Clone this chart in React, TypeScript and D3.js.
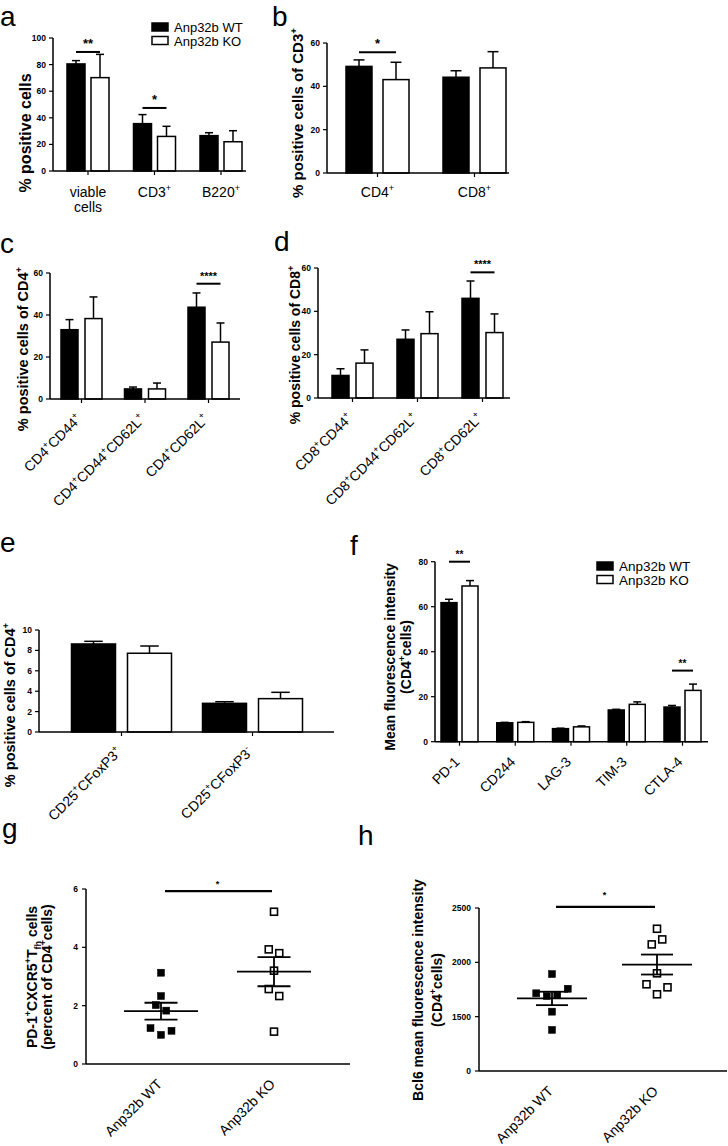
import React from 'react';
import * as d3 from 'd3';

const FONT = 'Arial, "Liberation Sans", Helvetica, sans-serif';

// ---------- Panel a ----------
const aCategories = ['viable\ncells', 'CD3^+', 'B220^+'];
const aWT = [80.5, 35.6, 26.6];
const aWTErr = [2.5, 6.8, 2.2];
const aKO = [70.2, 26, 22];
const aKOErr = [17.5, 7.6, 8.3];
const aYTicks = [0, 20, 40, 60, 80, 100];
const aSig = [{ group: 0, y: 89.5, label: '**' }, { group: 1, y: 47.4, label: '*' }];

// ---------- Panel b ----------
const bCategories = ['CD4^+', 'CD8^+'];
const bWT = [49.2, 44.2];
const bWTErr = [3, 3];
const bKO = [43.1, 48.5];
const bKOErr = [8, 7.5];
const bYTicks = [0, 20, 40, 60];
const bSig = [{ group: 0, y: 55.7, label: '*' }];

// ---------- Panel c ----------
const cCategories = ['CD4^+CD44^+', 'CD4^+CD44^+CD62L^+', 'CD4^+CD62L^+'];
const cWT = [33, 4.8, 43.7];
const cWTErr = [4.8, 0.9, 6.8];
const cKO = [38.3, 4.8, 27.1];
const cKOErr = [10.3, 2.8, 9.1];
const cYTicks = [0, 20, 40, 60];
const cSig = [{ group: 2, y: 54.9, label: '****' }];

// ---------- Panel d ----------
const dCategories = ['CD8^+CD44^+', 'CD8^+CD44^+CD62L^+', 'CD8^+CD62L^+'];
const dWT = [10.4, 27.1, 46];
const dWTErr = [3.1, 4.3, 8];
const dKO = [16.1, 29.7, 30.2];
const dKOErr = [6.1, 10.1, 8.6];
const dYTicks = [0, 20, 40, 60];
const dSig = [{ group: 2, y: 58, label: '****' }];

// ---------- Panel e ----------
const eCategories = ['CD25^+CFoxP3^+', 'CD25^+CFoxP3^-'];
const eWT = [8.63, 2.81];
const eWTErr = [0.26, 0.16];
const eKO = [7.72, 3.27];
const eKOErr = [0.71, 0.62];
const eYTicks = [0, 2, 4, 6, 8, 10];

// ---------- Panel f ----------
const fCategories = ['PD-1', 'CD244', 'LAG-3', 'TIM-3', 'CTLA-4'];
const fWT = [61.8, 8.4, 5.8, 14.1, 15.4];
const fWTErr = [1.5, 0.2, 0.2, 0.3, 0.7];
const fKO = [69.2, 8.6, 6.6, 16.6, 22.8];
const fKOErr = [2.4, 0.3, 0.4, 1.1, 2.8];
const fYTicks = [0, 20, 40, 60, 80];
const fSig = [{ group: 0, y: 80, label: '**' }, { group: 4, y: 31.6, label: '**' }];

// ---------- Panel g ----------
const gGroups = ['Anp32b WT', 'Anp32b KO'];
const gWT = [3.13, 2.33, 2.02, 1.83, 1.23, 1.0, 1.14];
const gKO = [5.22, 3.93, 3.8, 3.2, 2.57, 2.33, 1.11];
const gYTicks = [0, 2, 4, 6];
const gSigY = 5.93;

// ---------- Panel h ----------
const hGroups = ['Anp32b WT', 'Anp32b KO'];
const hWT = [1892, 1715, 1690, 1697, 1757, 1546, 1378];
const hKO = [2309, 2165, 2211, 1899, 1798, 1706, 1770];
const hYTicks = [0, 1500, 2000, 2500];
const hSigY = 2510;

const legendLabels = ['Anp32b WT', 'Anp32b KO'];

// rich text: ^x superscript char, _{..} subscript
function Rich({ s, fs }: { s: string; fs: number }) {
  const parts = s.split(/(\^.|_\{[^}]*\})/).filter((p) => p !== '');
  let shift = 0;
  const out: any[] = [];
  parts.forEach((p, i) => {
    if (p.startsWith('^')) {
      const target = -fs * 0.42;
      out.push(
        <tspan key={i} dy={target - shift} fontSize={fs * 0.65}>
          {p.slice(1)}
        </tspan>
      );
      shift = target;
    } else if (p.startsWith('_{')) {
      const target = fs * 0.25;
      out.push(
        <tspan key={i} dy={target - shift} fontSize={fs * 0.65}>
          {p.slice(2, -1)}
        </tspan>
      );
      shift = target;
    } else {
      out.push(
        <tspan key={i} dy={-shift}>
          {p}
        </tspan>
      );
      shift = 0;
    }
  });
  return <>{out}</>;
}

type BarCfg = {
  axisX: number;
  axisEnd: number;
  yBottom: number;
  yTop: number;
  max: number;
  first: number;
  last: number;
  barW: number;
  gap: number;
  rotate: boolean;
  labelY?: number;
  starFs: number;
};

function BarPanel({
  cfg,
  cats,
  wt,
  wtErr,
  ko,
  koErr,
  ticks,
  sig,
}: {
  cfg: BarCfg;
  cats: string[];
  wt: number[];
  wtErr: number[];
  ko: number[];
  koErr: number[];
  ticks: number[];
  sig?: { group: number; y: number; label: string }[];
}) {
  const y = d3.scaleLinear().domain([0, cfg.max]).range([cfg.yBottom, cfg.yTop]);
  const x = d3.scalePoint<string>().domain(cats).range([cfg.first, cfg.last]);
  const capW = Math.max(8, cfg.barW * 0.42);
  const series = [
    { vals: wt, errs: wtErr, fill: '#000', dx: -cfg.gap / 2 - cfg.barW },
    { vals: ko, errs: koErr, fill: '#fff', dx: cfg.gap / 2 },
  ];
  return (
    <g>
      {series.map((s, si) =>
        cats.map((c, i) => {
          const cx = (x(c) as number) + s.dx;
          const top = y(s.vals[i]);
          const et = y(s.vals[i] + s.errs[i]);
          const mid = cx + cfg.barW / 2;
          return (
            <g key={`${si}-${i}`}>
              <line x1={mid} x2={mid} y1={top} y2={et} stroke="#000" strokeWidth={1.5} />
              <line x1={mid - capW / 2} x2={mid + capW / 2} y1={et} y2={et} stroke="#000" strokeWidth={1.5} />
              <rect x={cx} y={top} width={cfg.barW} height={cfg.yBottom - top} fill={s.fill} stroke="#000" strokeWidth={1.5} />
            </g>
          );
        })
      )}
      <line x1={cfg.axisX} x2={cfg.axisX} y1={cfg.yBottom} y2={y(cfg.max)} stroke="#000" strokeWidth={1.5} />
      <line x1={cfg.axisX} x2={cfg.axisEnd} y1={cfg.yBottom} y2={cfg.yBottom} stroke="#000" strokeWidth={1.5} />
      {ticks.map((t) => (
        <g key={t}>
          <line x1={cfg.axisX - 4} x2={cfg.axisX} y1={y(t)} y2={y(t)} stroke="#000" strokeWidth={1.2} />
          <text x={cfg.axisX - 7} y={y(t) + 3} fontSize={8.5} fontWeight="bold" textAnchor="end" fontFamily={FONT}>
            {t}
          </text>
        </g>
      ))}
      {cats.map((c) => (
        <line key={c} x1={x(c)} x2={x(c)} y1={cfg.yBottom} y2={cfg.yBottom + 4} stroke="#000" strokeWidth={1.2} />
      ))}
      {cats.map((c) => {
        const cx = x(c) as number;
        if (cfg.rotate) {
          return (
            <text
              key={c}
              transform={`translate(${cx + 1},${cfg.yBottom + 21}) rotate(-45)`}
              textAnchor="end"
              fontSize={14}
              fontFamily={FONT}
            >
              <Rich s={c} fs={14} />
            </text>
          );
        }
        return c.split('\n').map((ln, li) => (
          <text key={c + li} x={cx} y={(cfg.labelY as number) + li * 15} textAnchor="middle" fontSize={14} fontFamily={FONT}>
            <Rich s={ln} fs={14} />
          </text>
        ));
      })}
      {sig &&
        sig.map((s, k) => {
          const c = x(cats[s.group]) as number;
          const x1 = c - cfg.gap / 2 - cfg.barW / 2;
          const x2 = c + cfg.gap / 2 + cfg.barW / 2;
          const yy = y(s.y);
          return (
            <g key={k}>
              <line x1={x1} x2={x2} y1={yy} y2={yy} stroke="#000" strokeWidth={2} />
              <text x={(x1 + x2) / 2} y={yy - 4} textAnchor="middle" fontSize={cfg.starFs} fontWeight="bold" fontFamily={FONT}>
                {s.label}
              </text>
            </g>
          );
        })}
    </g>
  );
}

function swarm(values: number[], y: (v: number) => number, thresh: number, spacing: number) {
  const idx = values.map((_, i) => i).sort((a, b) => y(values[a]) - y(values[b]));
  const rows: number[][] = [];
  let prev = -Infinity;
  idx.forEach((i) => {
    const py = y(values[i]);
    if (rows.length && py - prev < thresh) rows[rows.length - 1].push(i);
    else rows.push([i]);
    prev = py;
  });
  const off = new Array(values.length).fill(0);
  rows.forEach((r) => {
    r.sort((a, b) => a - b);
    r.forEach((i, k) => (off[i] = (k - (r.length - 1) / 2) * spacing));
  });
  return off;
}

type ScatCfg = {
  axisX: number;
  axisEnd: number;
  first: number;
  last: number;
  meanHalf: number;
  semHalf: number;
};

function ScatterPanel({
  cfg,
  y,
  groups,
  series,
  ticks,
  sigY,
  starY,
}: {
  cfg: ScatCfg;
  y: d3.ScaleLinear<number, number>;
  groups: string[];
  series: number[][];
  ticks: number[];
  sigY: number;
  starY: number;
}) {
  const x = d3.scalePoint<string>().domain(groups).range([cfg.first, cfg.last]);
  const yb = y(0);
  const sz = 7;
  return (
    <g>
      <line x1={cfg.axisX} x2={cfg.axisX} y1={yb} y2={y(ticks[ticks.length - 1])} stroke="#000" strokeWidth={1.5} />
      <line x1={cfg.axisX} x2={cfg.axisEnd} y1={yb} y2={yb} stroke="#000" strokeWidth={1.5} />
      {ticks.map((t) => (
        <g key={t}>
          <line x1={cfg.axisX - 4} x2={cfg.axisX} y1={y(t)} y2={y(t)} stroke="#000" strokeWidth={1.2} />
          <text x={cfg.axisX - 8} y={y(t) + 3} fontSize={8.5} fontWeight="bold" textAnchor="end" fontFamily={FONT}>
            {t}
          </text>
        </g>
      ))}
      {series.map((vals, gi) => {
        const cx = x(groups[gi]) as number;
        const off = swarm(vals, y, 8.5, 10.5);
        const m = d3.mean(vals) as number;
        const sem = (d3.deviation(vals) as number) / Math.sqrt(vals.length);
        return (
          <g key={gi}>
            {vals.map((v, i) => (
              <rect
                key={i}
                x={cx + off[i] - sz / 2}
                y={y(v) - sz / 2}
                width={sz}
                height={sz}
                fill={gi === 0 ? '#000' : '#fff'}
                stroke="#000"
                strokeWidth={gi === 0 ? 0.5 : 1.6}
              />
            ))}
            <line x1={cx - cfg.meanHalf} x2={cx + cfg.meanHalf} y1={y(m)} y2={y(m)} stroke="#000" strokeWidth={1.8} />
            <line x1={cx - cfg.semHalf} x2={cx + cfg.semHalf} y1={y(m + sem)} y2={y(m + sem)} stroke="#000" strokeWidth={1.8} />
            <line x1={cx - cfg.semHalf} x2={cx + cfg.semHalf} y1={y(m - sem)} y2={y(m - sem)} stroke="#000" strokeWidth={1.8} />
            <line x1={cx} x2={cx} y1={y(m + sem)} y2={y(m - sem)} stroke="#000" strokeWidth={1.8} />
            <text
              transform={`translate(${cx + 2},${yb + 21}) rotate(-45)`}
              textAnchor="end"
              fontSize={14}
              fontFamily={FONT}
            >
              {groups[gi]}
            </text>
          </g>
        );
      })}
      <line x1={cfg.first + 4} x2={cfg.last - 2} y1={y(sigY)} y2={y(sigY)} stroke="#000" strokeWidth={2.2} />
      <text x={(cfg.first + cfg.last) / 2} y={starY} textAnchor="middle" fontSize={9} fontWeight="bold" fontFamily={FONT}>
        *
      </text>
    </g>
  );
}

function YTitle({ x, y, text, fs = 14 }: { x: number; y: number; text: string; fs?: number }) {
  return (
    <text transform={`translate(${x},${y}) rotate(-90)`} textAnchor="middle" fontSize={fs} fontWeight="bold" fontFamily={FONT}>
      <Rich s={text} fs={fs} />
    </text>
  );
}

function Legend({ x, y, fs }: { x: number; y: number; fs: number }) {
  return (
    <g>
      {legendLabels.map((l, i) => (
        <g key={l}>
          <rect x={x} y={y + i * 13.5} width={16} height={8} fill={i === 0 ? '#000' : '#fff'} stroke="#000" strokeWidth={1.5} />
          <text x={x + 22} y={y + i * 13.5 + 9} fontSize={fs} fontFamily={FONT}>
            {l}
          </text>
        </g>
      ))}
    </g>
  );
}

function Letter({ x, y, t }: { x: number; y: number; t: string }) {
  return (
    <text x={x} y={y} fontSize={28} fontFamily={FONT}>
      {t}
    </text>
  );
}

export default function App() {
  const gY = d3.scaleLinear().domain([0, 6]).range([1064, 889]);
  const hY = d3.scaleLinear().domain([0, 1000, 2500]).range([1071, 1071, 908]);
  return (
    <svg width={728} height={1146} style={{ position: 'absolute', left: 0, top: 0, background: '#fff' }}>
      <rect width={728} height={1146} fill="#fff" />
      <Letter x={0} y={26} t="a" />
      <Letter x={272} y={26} t="b" />
      <Letter x={0} y={253} t="c" />
      <Letter x={274} y={251} t="d" />
      <Letter x={0} y={552} t="e" />
      <Letter x={350} y={555} t="f" />
      <Letter x={2} y={838} t="g" />
      <Letter x={358} y={845} t="h" />

      <BarPanel
        cfg={{ axisX: 53, axisEnd: 246, yBottom: 171, yTop: 38, max: 100, first: 88, last: 221, barW: 18, gap: 6, rotate: false, labelY: 197, starFs: 13 }}
        cats={aCategories}
        wt={aWT}
        wtErr={aWTErr}
        ko={aKO}
        koErr={aKOErr}
        ticks={aYTicks}
        sig={aSig}
      />
      <Legend x={152} y={23} fs={13} />
      <YTitle x={31} y={133} text="% positive cells" fs={16} />

      <BarPanel
        cfg={{ axisX: 327, axisEnd: 509, yBottom: 173, yTop: 43, max: 60, first: 377.5, last: 474.5, barW: 26, gap: 11, rotate: false, labelY: 197, starFs: 13 }}
        cats={bCategories}
        wt={bWT}
        wtErr={bWTErr}
        ko={bKO}
        koErr={bKOErr}
        ticks={bYTicks}
        sig={bSig}
      />
      <YTitle x={303} y={113} text="% positive cells of CD3^+" fs={15} />

      <BarPanel
        cfg={{ axisX: 50, axisEnd: 240, yBottom: 399, yTop: 273, max: 60, first: 81.5, last: 208.5, barW: 17, gap: 7, rotate: true, starFs: 11 }}
        cats={cCategories}
        wt={cWT}
        wtErr={cWTErr}
        ko={cKO}
        koErr={cKOErr}
        ticks={cYTicks}
        sig={cSig}
      />
      <YTitle x={28} y={349} text="% positive cells of CD4^+" fs={14.5} />

      <BarPanel
        cfg={{ axisX: 318, axisEnd: 510, yBottom: 398, yTop: 268, max: 60, first: 352.5, last: 482.5, barW: 17, gap: 7, rotate: true, starFs: 11 }}
        cats={dCategories}
        wt={dWT}
        wtErr={dWTErr}
        ko={dKO}
        koErr={dKOErr}
        ticks={dYTicks}
        sig={dSig}
      />
      <YTitle x={300} y={345} text="% positive cells of CD8^+" fs={14} />

      <BarPanel
        cfg={{ axisX: 39, axisEnd: 334, yBottom: 732, yTop: 630, max: 10, first: 121.5, last: 252.5, barW: 44, gap: 12, rotate: true, starFs: 11 }}
        cats={eCategories}
        wt={eWT}
        wtErr={eWTErr}
        ko={eKO}
        koErr={eKOErr}
        ticks={eYTicks}
      />
      <YTitle x={15} y={705} text="% positive cells of CD4^+" fs={14.5} />

      <BarPanel
        cfg={{ axisX: 435, axisEnd: 708, yBottom: 741.7, yTop: 561.7, max: 80, first: 459.5, last: 682.5, barW: 16, gap: 5, rotate: true, starFs: 10 }}
        cats={fCategories}
        wt={fWT}
        wtErr={fWTErr}
        ko={fKO}
        koErr={fKOErr}
        ticks={fYTicks}
        sig={fSig}
      />
      <Legend x={597} y={562} fs={13.5} />
      <YTitle x={395} y={657} text="Mean fluorescence intensity" />
      <YTitle x={411} y={657} text="(CD4^+cells)" />

      <ScatterPanel
        cfg={{ axisX: 86, axisEnd: 350, first: 161, last: 274, meanHalf: 37, semHalf: 16.5 }}
        y={gY}
        groups={gGroups}
        series={[gWT, gKO]}
        ticks={gYTicks}
        sigY={gSigY}
        starY={887}
      />
      <YTitle x={37} y={977} text="PD-1^+CXCR5^+T_{fh} cells" />
      <YTitle x={52} y={977} text="(percent of CD4^+cells)" />

      <ScatterPanel
        cfg={{ axisX: 479, axisEnd: 727, first: 552, last: 657, meanHalf: 35, semHalf: 16 }}
        y={hY}
        groups={hGroups}
        series={[hWT, hKO]}
        ticks={hYTicks}
        sigY={hSigY}
        starY={898}
      />
      <YTitle x={423} y={990} text="Bcl6 mean fluorescence intensity" />
      <YTitle x={442} y={990} text="(CD4^+cells)" />
    </svg>
  );
}
